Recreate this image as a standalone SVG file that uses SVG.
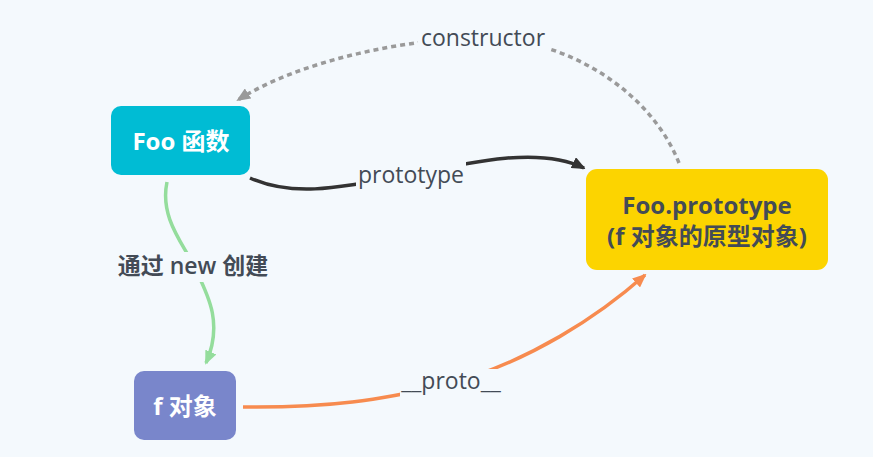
<svg xmlns="http://www.w3.org/2000/svg" width="873" height="457" viewBox="0 0 873 457">
<defs>
<style>
.lbl{font-family:"Open Sans","Noto Sans CJK SC",sans-serif;font-size:23px;fill:#434b56;text-anchor:middle}
.nt{font-family:"Open Sans","Noto Sans CJK SC",sans-serif;font-size:24px;font-weight:700;text-anchor:middle}
.bg{fill:#f4f9fd}
.c{fill:none;stroke-width:3.5;stroke-linecap:butt}
</style>
<marker id="ag" viewBox="0 0 14 12" refX="12" refY="6" markerWidth="14" markerHeight="12" markerUnits="userSpaceOnUse" orient="auto"><path d="M0,0 L14,6 L0,12 Z" fill="#9a9a9a"/></marker>
<marker id="ak" viewBox="0 0 14 12" refX="12" refY="6" markerWidth="14" markerHeight="12" markerUnits="userSpaceOnUse" orient="auto"><path d="M0,0 L14,6 L0,12 Z" fill="#333333"/></marker>
<marker id="agr" viewBox="0 0 14 12" refX="12" refY="6" markerWidth="14" markerHeight="12" markerUnits="userSpaceOnUse" orient="auto"><path d="M0,0 L14,6 L0,12 Z" fill="#94dd9c"/></marker>
<marker id="ao" viewBox="0 0 14 12" refX="12" refY="6" markerWidth="14" markerHeight="12" markerUnits="userSpaceOnUse" orient="auto"><path d="M0,0 L14,6 L0,12 Z" fill="#f78b4f"/></marker>
</defs>
<rect width="873" height="457" class="bg"/>
<g id="connectors">
<g id="e-constructor">
<path class="c" d="M679,163 C650,90 565,38 483,38 C410,38 300,60 238,100" stroke="#9a9a9a" stroke-dasharray="5 4" marker-end="url(#ag)"/>
<rect class="bg" x="418" y="24" width="130" height="30"/>
<text class="lbl" x="483" y="46">constructor</text>
</g>
<g id="e-prototype">
<path class="c" d="M250,178 C290,196 330,190 410,175 C470,162 540,146 584,168" stroke="#333333" marker-end="url(#ak)"/>
<rect class="bg" x="356" y="162" width="110" height="30"/>
<text class="lbl" x="411" y="183">prototype</text>
</g>
<g id="e-new">
<path class="c" d="M167,182 C160,215 180,240 192,262 C205,290 225,320 206,363" stroke="#94dd9c" marker-end="url(#agr)"/>
<rect class="bg" x="117" y="252" width="154" height="30"/>
<text class="lbl" x="193" y="274" font-weight="600" font-size="22.5">通过 new 创建</text>
</g>
<g id="e-proto">
<path class="c" d="M243,407 C330,408 380,400 445,385 C530,362 600,315 645,275" stroke="#f78b4f" marker-end="url(#ao)"/>
<rect class="bg" x="400" y="369" width="102" height="28"/>
<text class="lbl" x="451" y="389">__proto__</text>
</g>
</g>
<g id="foo-fn">
<rect x="111" y="106" width="139" height="69" rx="10" fill="#00bcd4"/>
<text class="nt" x="181" y="150" fill="#ffffff">Foo 函数</text>
</g>
<g id="foo-prototype">
<rect x="586" y="169" width="242" height="101" rx="11" fill="#fcd400"/>
<text class="nt" x="707" y="214" fill="#434b56">Foo.prototype</text>
<text class="nt" x="707" y="245" fill="#434b56">(f 对象的原型对象)</text>
</g>
<g id="f-obj">
<rect x="134" y="371" width="102" height="69" rx="10" fill="#7986cb"/>
<text class="nt" x="185" y="415" fill="#ffffff">f 对象</text>
</g>
</svg>
